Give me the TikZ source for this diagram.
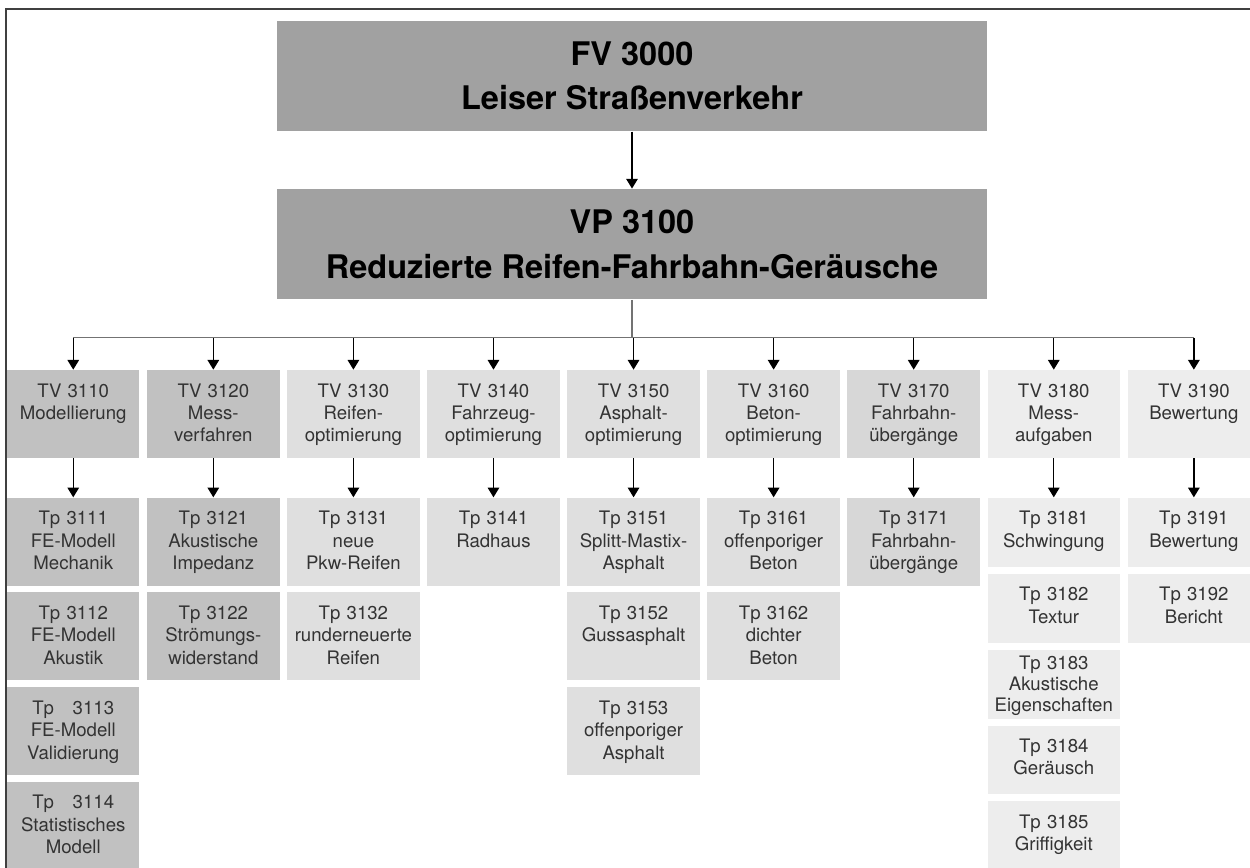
\documentclass[tikz,border=0pt]{standalone}
\usepackage{fontspec}
\setmainfont{TeX Gyre Heros}
\usepackage{tikz}
\usetikzlibrary{arrows.meta,positioning}

\definecolor{topgray}{gray}{0.63}
\definecolor{modgray}{gray}{0.755}
\definecolor{optgray}{gray}{0.875}
\definecolor{fbgray}{gray}{0.845}
\definecolor{auxgray}{gray}{0.93}

\begin{document}
\begin{tikzpicture}[x=0.02cm, y=-0.02cm, node distance=0.12cm,
  mainbox/.style={fill=topgray, minimum width=14.2cm, minimum height=2.21cm, align=center, inner sep=0pt, font=\bfseries\fontsize{18.5}{25.3}\selectfont},
  tvbox/.style={fill=#1, text width=2.65cm, align=center, inner sep=0pt, text height=0.54cm, text depth=1.22cm, text=black!80, font=\fontsize{10.6}{12.8}\selectfont},
  tpshort/.style={tvbox=#1, text depth=0.84cm},
  arr/.style={-{Triangle[width=6.5pt,length=5.5pt]}, line width=0.8pt},
  busline/.style={draw=black!55, line width=0.6pt}]
  \useasboundingbox (0,0) rectangle (1250,868);
  \draw[line width=1.1pt, black!75] (1250,9) -- (6,9) -- (6,868);

  \node[mainbox] (fv) at (632,76) {FV 3000\\Leiser Straßenverkehr};
  \node[mainbox, below=1.14cm of fv] (vp) {VP 3100\\Reduzierte Reifen-Fahrbahn-Geräusche};
  \coordinate[below=0.76cm of vp] (bus);

  \node[tvbox=modgray] (tv3110) at (73.25,414) {TV 3110\\Modellierung};
  \node[tvbox=modgray, right=0.138cm of tv3110] (tv3120) {TV 3120\\Mess-\\verfahren};
  \node[tvbox=optgray, right=0.138cm of tv3120] (tv3130) {TV 3130\\Reifen-\\optimierung};
  \node[tvbox=optgray, right=0.138cm of tv3130] (tv3140) {TV 3140\\Fahrzeug-\\optimierung};
  \node[tvbox=optgray, right=0.138cm of tv3140] (tv3150) {TV 3150\\Asphalt-\\optimierung};
  \node[tvbox=optgray, right=0.138cm of tv3150] (tv3160) {TV 3160\\Beton-\\optimierung};
  \node[tvbox=fbgray, right=0.138cm of tv3160] (tv3170) {TV 3170\\Fahrbahn-\\übergänge};
  \node[tvbox=auxgray, right=0.138cm of tv3170] (tv3180) {TV 3180\\Mess-\\aufgaben};
  \node[tvbox=auxgray, right=0.138cm of tv3180] (tv3190) {TV 3190\\Bewertung};

  \node[tvbox=modgray, below=0.78cm of tv3110] (tp3111) {Tp 3111\\FE-Modell\\Mechanik};
  \node[tvbox=modgray, below=of tp3111] (tp3112) {Tp 3112\\FE-Modell\\Akustik};
  \node[tvbox=modgray, below=of tp3112] (tp3113) {Tp\ \ \ 3113\\FE-Modell\\Validierung};
  \node[tvbox=modgray, below=of tp3113] (tp3114) {Tp\ \ \ 3114\\Statistisches\\Modell};

  \node[tvbox=modgray, below=0.78cm of tv3120] (tp3121) {Tp 3121\\Akustische\\Impedanz};
  \node[tvbox=modgray, below=of tp3121] (tp3122) {Tp 3122\\Strömungs-\\widerstand};

  \node[tvbox=optgray, below=0.78cm of tv3130] (tp3131) {Tp 3131\\neue\\Pkw-Reifen};
  \node[tvbox=optgray, below=of tp3131] (tp3132) {Tp 3132\\runderneuerte\\Reifen};

  \node[tvbox=optgray, below=0.78cm of tv3140] (tp3141) {Tp 3141\\Radhaus};

  \node[tvbox=optgray, below=0.78cm of tv3150] (tp3151) {Tp 3151\\Splitt-Mastix-\\Asphalt};
  \node[tvbox=optgray, below=of tp3151] (tp3152) {Tp 3152\\Gussasphalt};
  \node[tvbox=optgray, below=of tp3152] (tp3153) {Tp 3153\\offenporiger\\Asphalt};

  \node[tvbox=optgray, below=0.78cm of tv3160] (tp3161) {Tp 3161\\offenporiger\\Beton};
  \node[tvbox=optgray, below=of tp3161] (tp3162) {Tp 3162\\dichter\\Beton};

  \node[tvbox=fbgray, below=0.78cm of tv3170] (tp3171) {Tp 3171\\Fahrbahn-\\übergänge};

  \node[tpshort=auxgray, below=0.78cm of tv3180] (tp3181) {Tp 3181\\Schwingung};
  \node[tpshort=auxgray, below=0.125cm of tp3181] (tp3182) {Tp 3182\\Textur};
  \node[tpshort=auxgray, below=0.125cm of tp3182, text height=0.4cm, text depth=0.98cm, font=\fontsize{10.6}{11.8}\selectfont] (tp3183) {Tp 3183\\Akustische\\Eigenschaften};
  \node[tpshort=auxgray, below=0.125cm of tp3183] (tp3184) {Tp 3184\\Geräusch};
  \node[tpshort=auxgray, below=0.125cm of tp3184] (tp3185) {Tp 3185\\Griffigkeit};

  \node[tpshort=auxgray, below=0.78cm of tv3190] (tp3191) {Tp 3191\\Bewertung};
  \node[tpshort=auxgray, below=0.125cm of tp3191] (tp3192) {Tp 3192\\Bericht};

  \draw[arr] (fv) -- (vp);
  \draw[busline] (vp) -- (bus);
  \draw[busline] (tv3110.north |- bus) -- (tv3190.north |- bus);
  \foreach \n in {311,312,...,319} \draw[arr] (tv\n0.north |- bus) -- (tv\n0);
  \foreach \n in {311,312,...,319} \draw[arr] (tv\n0) -- (tp\n1);
\end{tikzpicture}
\end{document}
